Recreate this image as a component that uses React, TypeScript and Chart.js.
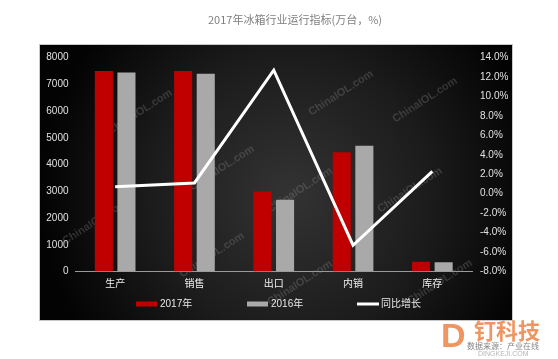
import React, { useEffect, useRef } from "react";
import { Chart, registerables } from "chart.js";

Chart.register(...registerables);

const categories = ["生产", "销售", "出口", "内销", "库存"];
const values2017 = [7500, 7500, 2990, 4460, 360];
const values2016 = [7440, 7390, 2680, 4700, 350];
const yoyGrowth = [0.7, 1.1, 12.7, -5.3, 2.3];
const seriesNames = ["2017年", "2016年", "同比增长"];
const leftAxisRange = [0, 8000, 1000];
const rightAxisRange = [-8, 14, 2];
const chartTitle = "2017年冰箱行业运行指标(万台，%)";

const NUM_FONT = "'Liberation Sans', 'Noto Sans CJK SC', sans-serif";
const CJK_FONT = "'Noto Sans CJK SC', 'Liberation Sans', sans-serif";

const PANEL = { x: 40, y: 45, w: 472, h: 275 };

const backgroundPlugin = {
  id: "panelBackground",
  beforeDraw(chart: any) {
    const ctx = chart.ctx;
    ctx.save();
    ctx.fillStyle = "#ffffff";
    ctx.fillRect(0, 0, chart.width, chart.height);
    const g = ctx.createRadialGradient(290, 195, 0, 290, 195, 250);
    g.addColorStop(0, "#333333");
    g.addColorStop(0.55, "#1c1c1c");
    g.addColorStop(1, "#030303");
    ctx.fillStyle = g;
    ctx.fillRect(PANEL.x, PANEL.y, PANEL.w, PANEL.h);
    ctx.strokeStyle = "#c8c8c8";
    ctx.lineWidth = 1;
    ctx.strokeRect(PANEL.x - 0.5, PANEL.y - 0.5, PANEL.w + 1, PANEL.h + 1);
    // title
    ctx.fillStyle = "#7f7f7f";
    ctx.font = "11px " + CJK_FONT;
    ctx.textAlign = "center";
    ctx.textBaseline = "middle";
    ctx.fillText(chartTitle, 295, 20);
    ctx.restore();
  },
};

const watermarkSpots = [
  [140, 112], [341, 93], [222, 168], [300, 190], [212, 255],
  [95, 222], [300, 283], [440, 282], [410, 190], [425, 100],
];

const watermarkPlugin = {
  id: "watermarks",
  beforeDatasetsDraw(chart: any) {
    const ctx = chart.ctx;
    ctx.save();
    ctx.beginPath();
    ctx.rect(PANEL.x, PANEL.y, PANEL.w, PANEL.h);
    ctx.clip();
    ctx.fillStyle = "rgba(150,150,150,0.28)";
    ctx.font = "bold 11px 'Liberation Sans', sans-serif";
    ctx.textAlign = "center";
    ctx.textBaseline = "middle";
    for (const [x, y] of watermarkSpots) {
      ctx.save();
      ctx.translate(x, y);
      ctx.rotate(-Math.PI / 5.5);
      ctx.fillText("ChinaIOL.com", 0, 0);
      ctx.restore();
    }
    ctx.restore();
  },
};

const legendPlugin = {
  id: "customLegend",
  afterDraw(chart: any) {
    const ctx = chart.ctx;
    const starts = [136, 247, 357];
    const yc = 304;
    ctx.save();
    chart.data.datasets.forEach((ds: any, i: number) => {
      const x = starts[i];
      if (ds.type === "line") {
        ctx.fillStyle = ds.borderColor;
        ctx.fillRect(x, yc - 1.5, 22, 3);
      } else {
        ctx.fillStyle = ds.backgroundColor;
        ctx.fillRect(x, yc - 2.5, 21, 5);
      }
      ctx.fillStyle = "#e8e8e8";
      ctx.font = "10px " + NUM_FONT;
      ctx.textAlign = "left";
      ctx.textBaseline = "middle";
      ctx.fillText(ds.label, x + 24, yc);
    });
    // logo
    ctx.fillStyle = "rgba(236,130,70,0.85)";
    ctx.font = "bold 34px 'Liberation Sans', sans-serif";
    ctx.textAlign = "left";
    ctx.textBaseline = "alphabetic";
    ctx.fillText("D", 441, 347);
    ctx.font = "bold 22px " + CJK_FONT;
    ctx.fillText("钉科技", 474, 339);
    ctx.fillStyle = "rgba(110,110,110,0.85)";
    ctx.font = "8px " + CJK_FONT;
    ctx.fillText("数据来源：产业在线", 467, 349);
    ctx.fillStyle = "rgba(150,150,150,0.7)";
    ctx.font = "7px 'Liberation Sans', sans-serif";
    ctx.fillText("DINGKEJI.COM", 478, 356);
    ctx.restore();
  },
};

export default function App() {
  const ref = useRef<HTMLCanvasElement | null>(null);
  useEffect(() => {
    if (!ref.current) return;
    const chart = new Chart(ref.current, {
      type: "bar",
      data: {
        labels: categories,
        datasets: [
          {
            type: "bar",
            label: seriesNames[0],
            data: values2017,
            backgroundColor: "#c00000",
            yAxisID: "y",
            order: 2,
            categoryPercentage: 0.57,
            barPercentage: 0.8,
          } as any,
          {
            type: "bar",
            label: seriesNames[1],
            data: values2016,
            backgroundColor: "#a9a9a9",
            yAxisID: "y",
            order: 2,
            categoryPercentage: 0.57,
            barPercentage: 0.8,
          } as any,
          {
            type: "line",
            label: seriesNames[2],
            data: yoyGrowth,
            borderColor: "#ffffff",
            backgroundColor: "#ffffff",
            borderWidth: 3,
            pointRadius: 0,
            tension: 0,
            yAxisID: "y1",
            order: 0,
          } as any,
        ],
      },
      options: {
        responsive: false,
        animation: false,
        events: [],
        layout: { padding: { left: 40, right: 46, top: 57.5, bottom: 67.5 } },
        plugins: {
          legend: { display: false },
          title: { display: false },
          tooltip: { enabled: false },
        },
        scales: {
          x: {
            grid: { display: false, drawTicks: false },
            border: { display: true, color: "#9a9a9a", width: 1 },
            ticks: {
              color: "#f0f0f0",
              font: { size: 10, family: CJK_FONT },
              padding: 6,
              maxRotation: 0,
            },
            afterFit(scale: any) {
              scale.height = 20;
            },
          },
          y: {
            position: "left",
            min: leftAxisRange[0],
            max: leftAxisRange[1],
            grid: { display: false, drawTicks: false },
            border: { display: false },
            ticks: {
              stepSize: leftAxisRange[2],
              color: "#e0e0e0",
              font: { size: 10, family: NUM_FONT },
              padding: 7,
              callback: (v: any) => String(v),
            },
            afterFit(scale: any) {
              scale.width = 35.5;
            },
          },
          y1: {
            position: "right",
            min: rightAxisRange[0],
            max: rightAxisRange[1],
            grid: { display: false, drawTicks: false },
            border: { display: false },
            ticks: {
              stepSize: rightAxisRange[2],
              color: "#e0e0e0",
              font: { size: 10, family: NUM_FONT },
              padding: 8,
              callback: (v: any) => Number(v).toFixed(1) + "%",
            },
            afterFit(scale: any) {
              scale.width = 40;
            },
          },
        },
      } as any,
      plugins: [backgroundPlugin, watermarkPlugin, legendPlugin],
    });
    return () => chart.destroy();
  }, []);
  return (
    <div style={{ position: "absolute", left: 0, top: 0, width: 558, height: 359 }}>
      <canvas ref={ref} width={558} height={359} style={{ display: "block" }} />
    </div>
  );
}
